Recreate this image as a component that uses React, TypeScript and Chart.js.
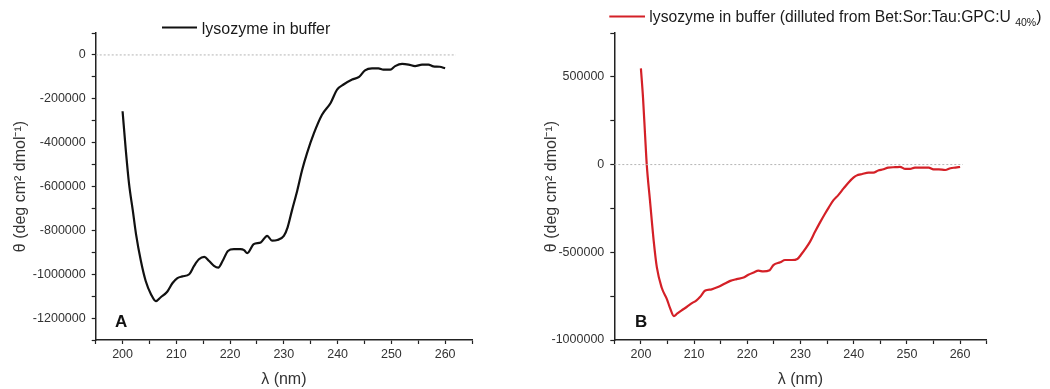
import React, { useEffect, useRef } from 'react';
import { Chart, registerables } from 'chart.js';

Chart.register(...registerables);

const FONT = "'Liberation Sans', Arial, Helvetica, sans-serif";

// Panel A: lysozyme in buffer (black)
const wavelengthA = [200.0, 200.6, 201.2, 201.9, 202.5, 203.4, 204.3, 205.3, 206.2, 207.1, 208.3, 209.3, 210.2, 211.1, 212.4, 213.3, 214.2, 215.2, 216.1, 217.0, 217.8, 218.6, 219.6, 220.7, 221.9, 222.6, 223.2, 224.4, 225.7, 226.9, 227.8, 228.8, 230.0, 230.7, 231.5, 232.5, 233.4, 234.3, 235.6, 237.1, 238.7, 239.9, 241.1, 242.7, 244.0, 245.1, 246.4, 247.6, 248.5, 249.8, 250.7, 252.0, 253.2, 254.4, 255.7, 256.9, 257.8, 259.0, 260.0];
const thetaA = [-257000, -434000, -587000, -709000, -817000, -939000, -1031000, -1092000, -1123000, -1105000, -1080000, -1040000, -1018000, -1010000, -1000000, -962000, -932000, -921000, -940000, -962000, -970000, -940000, -894000, -886000, -886000, -890000, -904000, -863000, -855000, -825000, -847000, -844000, -825000, -786000, -710000, -618000, -525000, -449000, -357000, -273000, -219000, -158000, -135000, -112000, -100000, -70000, -61000, -61000, -67000, -67000, -51000, -41000, -44000, -51000, -44000, -44000, -52000, -54000, -61000];

// Panel B: lysozyme in buffer diluted from Bet:Sor:Tau:GPC:U 40% (red)
const wavelengthB = [200.0, 200.4, 200.8, 201.1, 201.7, 202.4, 203.0, 203.9, 204.9, 205.5, 206.2, 206.8, 207.6, 208.6, 209.6, 210.4, 211.1, 212.1, 213.3, 214.6, 215.8, 216.8, 218.0, 219.3, 220.2, 221.2, 222.1, 223.0, 224.2, 224.9, 226.2, 227.1, 228.4, 229.4, 230.2, 230.9, 231.8, 232.7, 233.7, 234.6, 235.3, 236.2, 237.1, 238.1, 239.0, 240.0, 240.5, 241.6, 242.8, 243.7, 244.6, 245.6, 246.5, 247.8, 248.7, 249.7, 250.6, 251.5, 252.8, 254.1, 255.0, 256.0, 257.2, 258.2, 259.1, 260.0];
const thetaB = [548000, 380000, 160000, 0, -203000, -433000, -586000, -701000, -768000, -820000, -864000, -850000, -832000, -812000, -790000, -775000, -755000, -718000, -711000, -697000, -678000, -663000, -653000, -644000, -628000, -615000, -605000, -609000, -602000, -573000, -557000, -544000, -544000, -538000, -510000, -481000, -439000, -385000, -328000, -280000, -245000, -203000, -174000, -136000, -103000, -73000, -63000, -54000, -46000, -46000, -34000, -27000, -17000, -15000, -13000, -25000, -25000, -17000, -17000, -17000, -27000, -27000, -31000, -21000, -17000, -13000];

const zeroLineXA = [195, 262];
const zeroLineXB = [195, 260.5];

const xMin = 195;
const xMax = 265;
const xStep = 5;
const xLabelStep = 10;

const yMinA = -1300000;
const yMaxA = 100000;
const yStepA = 100000;
const yLabelStepA = 200000;

const yMinB = -1000000;
const yMaxB = 750000;
const yStepB = 250000;
const yLabelStepB = 500000;

const legendTextA = 'lysozyme in buffer';
const legendTextB = 'lysozyme in buffer (dilluted from Bet:Sor:Tau:GPC:U';
const legendSubB = '40%';
const yTitle = 'θ (deg cm² dmol⁻¹)';
const xTitle = 'λ (nm)';

type PanelCfg = {
  xs: number[];
  ys: number[];
  zeroX: number[];
  color: string;
  yMin: number;
  yMax: number;
  yStep: number;
  yLabelStep: number;
  padLeft: number;
  yWidth: number;
  padRight: number;
  yTitlePad: number;
  legend: { lx1: number; lx2: number; ly: number; tx: number; tBase: number; size: number; text: string; sub?: string };
  letter: { text: string; x: number; base: number };
};

function makeOverlay(p: PanelCfg) {
  return {
    id: 'overlay' + p.letter.text,
    afterDraw(chart: any) {
      const ctx = chart.ctx as CanvasRenderingContext2D;
      const L = p.legend;
      ctx.save();
      ctx.strokeStyle = p.color;
      ctx.lineWidth = 2.2;
      ctx.beginPath();
      ctx.moveTo(L.lx1, L.ly);
      ctx.lineTo(L.lx2, L.ly);
      ctx.stroke();
      ctx.fillStyle = '#1a1a1a';
      ctx.textBaseline = 'alphabetic';
      ctx.textAlign = 'left';
      ctx.font = `${L.size}px ${FONT}`;
      ctx.fillText(L.text, L.tx, L.tBase);
      if (L.sub) {
        let x = L.tx + ctx.measureText(L.text + ' ').width;
        ctx.font = `10.5px ${FONT}`;
        ctx.fillText(L.sub, x, L.tBase + 4);
        x += ctx.measureText(L.sub).width;
        ctx.font = `${L.size}px ${FONT}`;
        ctx.fillText(')', x, L.tBase);
      }
      ctx.font = `bold 17px ${FONT}`;
      ctx.fillStyle = '#111';
      ctx.fillText(p.letter.text, p.letter.x, p.letter.base);
      ctx.restore();
    },
  };
}

function buildConfig(p: PanelCfg): any {
  return {
    type: 'line',
    data: {
      datasets: [
        {
          data: p.zeroX.map((x) => ({ x, y: 0 })),
          borderColor: '#b4b4b4',
          borderWidth: 1,
          borderDash: [2, 2],
          pointRadius: 0,
          fill: false,
        },
        {
          data: p.xs.map((x, i) => ({ x, y: p.ys[i] })),
          borderColor: p.color,
          borderWidth: 2.2,
          pointRadius: 0,
          cubicInterpolationMode: 'monotone',
          fill: false,
        },
      ],
    },
    options: {
      responsive: false,
      animation: false,
      events: [],
      layout: { padding: { left: p.padLeft, right: p.padRight, top: 33, bottom: 0 } },
      plugins: { legend: { display: false }, tooltip: { enabled: false } },
      scales: {
        x: {
          type: 'linear',
          min: xMin,
          max: xMax,
          afterFit: (s: any) => {
            s.height = 49;
          },
          border: { display: true, color: '#222', width: 1.5 },
          grid: { drawOnChartArea: false, drawTicks: true, tickLength: 4, color: '#222', tickWidth: 1.2 },
          ticks: {
            stepSize: xStep,
            autoSkip: false,
            maxRotation: 0,
            padding: 3,
            color: '#333',
            font: { family: FONT, size: 12.5 },
            callback: (v: number) => (Math.abs(v % xLabelStep) < 1e-6 && v >= 200 && v <= 260 ? String(v) : ''),
          },
          title: {
            display: true,
            text: xTitle,
            color: '#333',
            font: { family: FONT, size: 16 },
            padding: { top: 0, bottom: 0 },
          },
        },
        y: {
          type: 'linear',
          min: p.yMin,
          max: p.yMax,
          afterFit: (s: any) => {
            s.width = p.yWidth;
          },
          border: { display: true, color: '#222', width: 1.5 },
          grid: { drawOnChartArea: false, drawTicks: true, tickLength: 4, color: '#222', tickWidth: 1.2 },
          ticks: {
            stepSize: p.yStep,
            autoSkip: false,
            padding: 6,
            color: '#333',
            font: { family: FONT, size: 12.5 },
            callback: (v: number) => (Math.abs(v % p.yLabelStep) < 1 ? String(Math.round(v)) : ''),
          },
          title: {
            display: true,
            text: yTitle,
            color: '#333',
            font: { family: FONT, size: 16 },
            padding: { top: p.yTitlePad, bottom: 0 },
          },
        },
      },
    },
    plugins: [makeOverlay(p)],
  };
}

const panelA: PanelCfg = {
  xs: wavelengthA,
  ys: thetaA,
  zeroX: zeroLineXA,
  color: '#111111',
  yMin: yMinA,
  yMax: yMaxA,
  yStep: yStepA,
  yLabelStep: yLabelStepA,
  padLeft: 4,
  yWidth: 91.7,
  padRight: 53,
  yTitlePad: 7.2,
  legend: { lx1: 162, lx2: 197, ly: 27.5, tx: 201.7, tBase: 34, size: 16, text: legendTextA },
  letter: { text: 'A', x: 115, base: 327 },
};

const panelB: PanelCfg = {
  xs: wavelengthB,
  ys: thetaB,
  zeroX: zeroLineXB,
  color: '#d42027',
  yMin: yMinB,
  yMax: yMaxB,
  yStep: yStepB,
  yLabelStep: yLabelStepB,
  padLeft: 4,
  yWidth: 85.3,
  padRight: 63.3,
  yTitlePad: 13.1,
  legend: { lx1: 84.3, lx2: 120, ly: 16.5, tx: 124.3, tBase: 21.5, size: 15.7, text: legendTextB, sub: legendSubB },
  letter: { text: 'B', x: 110, base: 327 },
};

function Panel({ cfg, left }: { cfg: PanelCfg; left: number }) {
  const ref = useRef<HTMLCanvasElement | null>(null);
  useEffect(() => {
    if (!ref.current) return;
    const chart = new Chart(ref.current, buildConfig(cfg));
    return () => chart.destroy();
  }, [cfg]);
  return (
    <canvas
      ref={ref}
      width={525}
      height={389}
      style={{ position: 'absolute', left, top: 0, width: 525, height: 389 }}
    />
  );
}

export default function App() {
  return (
    <div style={{ position: 'fixed', left: 0, top: 0, width: 1050, height: 389, background: '#fff' }}>
      <Panel cfg={panelA} left={0} />
      <Panel cfg={panelB} left={525} />
    </div>
  );
}
